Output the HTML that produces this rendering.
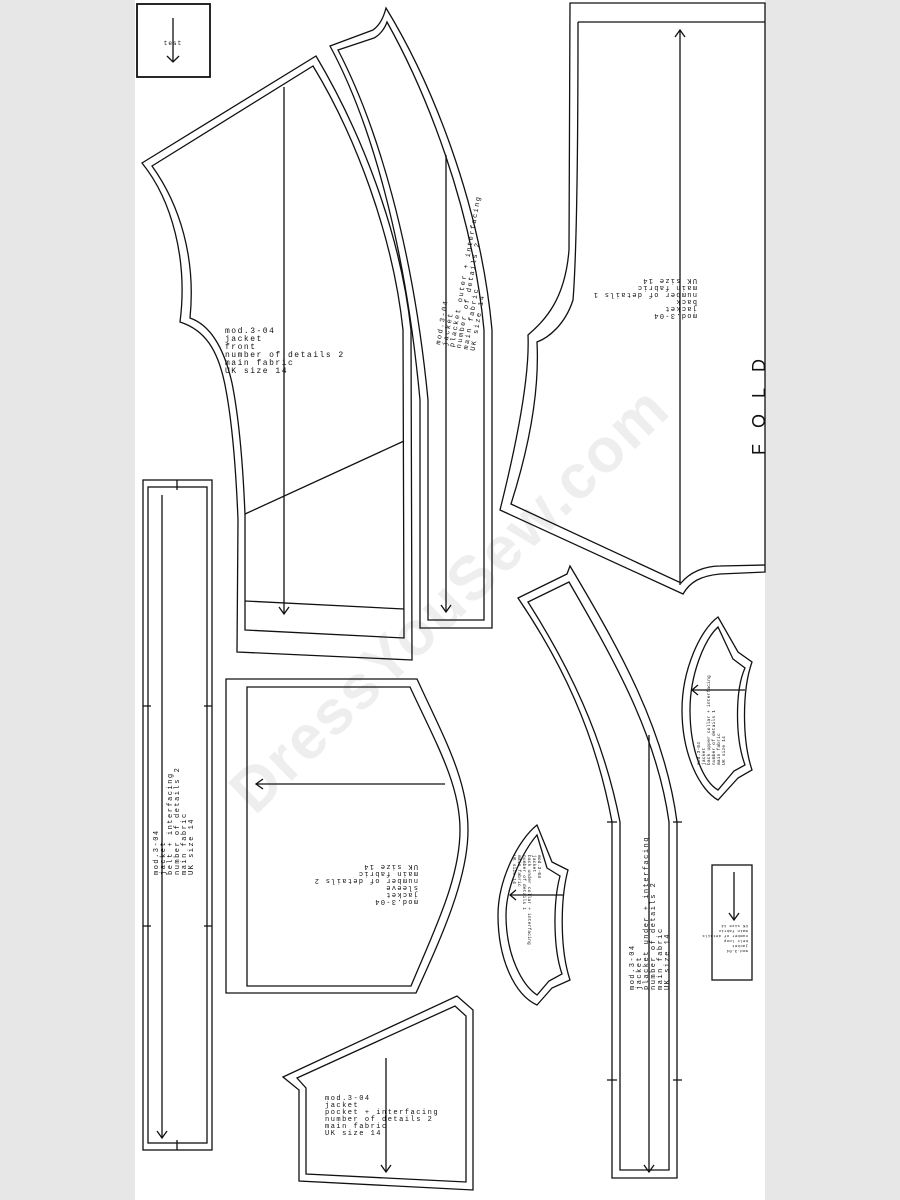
<!DOCTYPE html>
<html><head><meta charset="utf-8"><style>
html,body{margin:0;padding:0;background:#e7e7e7}
svg{display:block;font-size:8px;letter-spacing:1.5px}
text{font-family:"Liberation Mono",monospace;fill:#111}
</style></head><body>
<svg width="900" height="1200" viewBox="0 0 900 1200" xmlns="http://www.w3.org/2000/svg">
<rect x="0" y="0" width="900" height="1200" fill="#e7e7e7"/>
<rect x="135" y="0" width="630" height="1200" fill="#fff"/>
<text x="450" y="620" transform="rotate(-44 450 600)" text-anchor="middle" style="font-family:'Liberation Sans',sans-serif;font-size:62px;font-weight:bold;letter-spacing:2px;fill:#eeeeee">DressYouSew.com</text>
<g fill="none" stroke="#111" stroke-width="1.3">
<rect x="137" y="4" width="73" height="73" stroke-width="1.8"/>
<line x1="173" y1="18" x2="173" y2="62"/><path d="M167,56 L173,62 L179,56"/>
<path d="M142,163 L316,56 C360,130 400,230 411,330 L412,660 L237,652 L238,520 C236,470 232,420 225,385 C218,350 205,330 180,322 C188,260 172,200 142,163 Z"/>
<path d="M152,166 L313,66 C355,135 393,235 403,330 L404,638 L245,630 L245,515 C243,465 239,418 232,383 C224,348 210,325 190,318 C196,258 180,205 152,166 Z"/>
<line x1="245" y1="601" x2="404" y2="609"/>
<line x1="245" y1="514" x2="404" y2="441"/>
<line x1="284" y1="87" x2="284" y2="614"/><path d="M279,607 L284,614 L289,607"/>
<path d="M330,46 L373,30 C380,25 384,16 386,8 C430,80 480,200 492,330 L492,628 L420,628 L420,400 C405,240 370,120 330,46 Z"/>
<path d="M338,50 L374,38 C380,35 385,28 387,22 C425,90 472,205 484,330 L484,620 L428,620 L428,400 C413,245 377,125 338,50 Z"/>
<line x1="446" y1="155" x2="446" y2="612"/><path d="M441,605 L446,612 L451,605"/>
<path d="M570,3 L765,3 L765,572 L720,574 C700,576 690,582 683,594 L500,510 C515,450 530,380 528,335 C545,320 565,300 569,250 Z"/>
<path d="M578,22 L765,22 M578,22 C578,150 577,250 573,300 C565,325 548,338 537,342 C540,400 525,460 511,504 L681,583 C690,572 705,566 720,566 L765,565"/>
<line x1="680" y1="30" x2="680" y2="585"/><path d="M675,37 L680,30 L685,37"/>
<rect x="143" y="480" width="69" height="670"/>
<rect x="148" y="487" width="59" height="656"/>
<line x1="162" y1="495" x2="162" y2="1138"/><path d="M157,1131 L162,1138 L167,1131"/>
<path d="M143,706 h8 M204,706 h8 M143,926 h8 M204,926 h8 M177,480 v10 M177,1140 v10"/>
<path d="M226,679 L417,679 C445,740 468,780 468,830 C468,880 440,940 416,993 L226,993 Z"/>
<path d="M247,687 L410,687 C437,745 460,785 460,830 C460,880 432,935 411,986 L247,986 Z"/>
<line x1="256" y1="784" x2="445" y2="784"/><path d="M263,779 L256,784 L263,789"/>
<path d="M283,1077 L457,996 L473,1010 L473,1190 L299,1181 L299,1090 Z"/>
<path d="M297,1078 L455,1006 L466,1016 L466,1182 L306,1174 L306,1088 Z"/>
<line x1="386" y1="1058" x2="386" y2="1172"/><path d="M381,1165 L386,1172 L391,1165"/>
<path d="M518,598 L567,574 L570,566 C620,650 665,730 677,822 L677,1178 L612,1178 L612,822 C595,730 560,660 518,598 Z"/>
<path d="M528,602 L569,582 C614,660 657,735 669,822 L669,1170 L620,1170 L620,822 C603,735 568,665 528,602 Z"/>
<line x1="649" y1="735" x2="649" y2="1172"/><path d="M644,1165 L649,1172 L654,1165"/>
<path d="M607,822 h10 M673,822 h9 M607,1080 h10 M673,1080 h9"/>
<path d="M718,617 C700,630 682,670 682,710 C682,755 700,790 718,800 L738,778 L752,770 C742,740 742,690 752,662 L738,652 Z"/>
<path d="M718,627 C704,640 690,675 690,710 C690,752 704,782 718,790 L734,771 L745,765 C735,738 735,690 745,668 L733,659 Z"/>
<line x1="692" y1="690" x2="745" y2="690"/><path d="M698,685 L692,690 L698,695"/>
<path d="M537,825 C518,840 498,880 498,915 C498,960 515,995 537,1005 L552,988 L570,980 C560,950 560,900 568,870 L552,862 Z"/>
<path d="M537,835 C524,850 506,885 506,915 C506,955 522,985 537,995 L549,981 L562,974 C553,948 553,902 560,876 L547,868 Z"/>
<line x1="510" y1="895" x2="563" y2="895"/><path d="M516,890 L510,895 L516,900"/>
<rect x="712" y="865" width="40" height="115"/>
<line x1="734" y1="872" x2="734" y2="920"/><path d="M729,913 L734,920 L739,913"/>
</g>
<text x="173" y="45" text-anchor="middle" style="font-size:6px;letter-spacing:1px">test</text>
<g>
<text x="225" y="333">mod.3-04</text><text x="225" y="341">jacket</text><text x="225" y="349">front</text>
<text x="225" y="357">number of details 2</text><text x="225" y="365">main fabric</text><text x="225" y="373">UK size 14</text>
</g>
<g transform="translate(440,345) rotate(-80)" style="font-size:7px">
<text x="0" y="0">mod.3-04</text><text x="0" y="7">jacket</text><text x="0" y="14">placket outer + interfacing</text>
<text x="0" y="21">number of details 2</text><text x="0" y="28">main fabric</text><text x="0" y="35">UK size 14</text>
</g>
<g transform="translate(697,314) rotate(180)" style="font-size:7px;letter-spacing:1.3px">
<text x="0" y="0">mod.3-04</text><text x="0" y="7">jacket</text><text x="0" y="14">back</text>
<text x="0" y="21">number of details 1</text><text x="0" y="28">main fabric</text><text x="0" y="35">UK size 14</text>
</g>
<text x="0" y="0" transform="translate(765,455) rotate(-90)" style="font-family:'Liberation Sans',sans-serif;font-size:18px;letter-spacing:16px">FOLD</text>
<g transform="translate(158,875) rotate(-90)" style="font-size:7px">
<text x="0" y="0">mod.3-04</text><text x="0" y="7">jacket</text><text x="0" y="14">belt + interfacing</text>
<text x="0" y="21">number of details 2</text><text x="0" y="28">main fabric</text><text x="0" y="35">UK size 14</text>
</g>
<g transform="translate(418,900) rotate(180)" style="font-size:7px;letter-spacing:1.3px">
<text x="0" y="0">mod.3-04</text><text x="0" y="7">jacket</text><text x="0" y="14">sleeve</text>
<text x="0" y="21">number of details 2</text><text x="0" y="28">main fabric</text><text x="0" y="35">UK size 14</text>
</g>
<g style="font-size:7px">
<text x="325" y="1100">mod.3-04</text><text x="325" y="1107">jacket</text><text x="325" y="1114">pocket + interfacing</text>
<text x="325" y="1121">number of details 2</text><text x="325" y="1128">main fabric</text><text x="325" y="1135">UK size 14</text>
</g>
<g transform="translate(634,990) rotate(-90)" style="font-size:7px">
<text x="0" y="0">mod.3-04</text><text x="0" y="7">jacket</text><text x="0" y="14">placket under + interfacing</text>
<text x="0" y="21">number of details 2</text><text x="0" y="28">main fabric</text><text x="0" y="35">UK size 14</text>
</g>
<g transform="translate(700,765) rotate(-90)" style="font-size:4.5px;letter-spacing:0.2px">
<text x="0" y="0">mod.3-04</text><text x="0" y="5">jacket</text><text x="0" y="10">back upper collar + interfacing</text>
<text x="0" y="15">number of details 1</text><text x="0" y="20">main fabric</text><text x="0" y="25">UK size 14</text>
</g>
<g transform="translate(538,855) rotate(90)" style="font-size:4.5px;letter-spacing:0.2px">
<text x="0" y="0">mod.3-04</text><text x="0" y="5">jacket</text><text x="0" y="10">back under collar + interfacing</text>
<text x="0" y="15">number of details 1</text><text x="0" y="20">main fabric</text><text x="0" y="25">UK size 14</text>
</g>
<g transform="translate(748,950) rotate(180)" style="font-size:4px;letter-spacing:0.3px">
<text x="0" y="0">mod.3-04</text><text x="0" y="5">jacket</text><text x="0" y="10">belt loop</text>
<text x="0" y="15">number of details</text><text x="0" y="20">main fabric</text><text x="0" y="25">UK size 14</text>
</g>
</svg>
</body></html>
